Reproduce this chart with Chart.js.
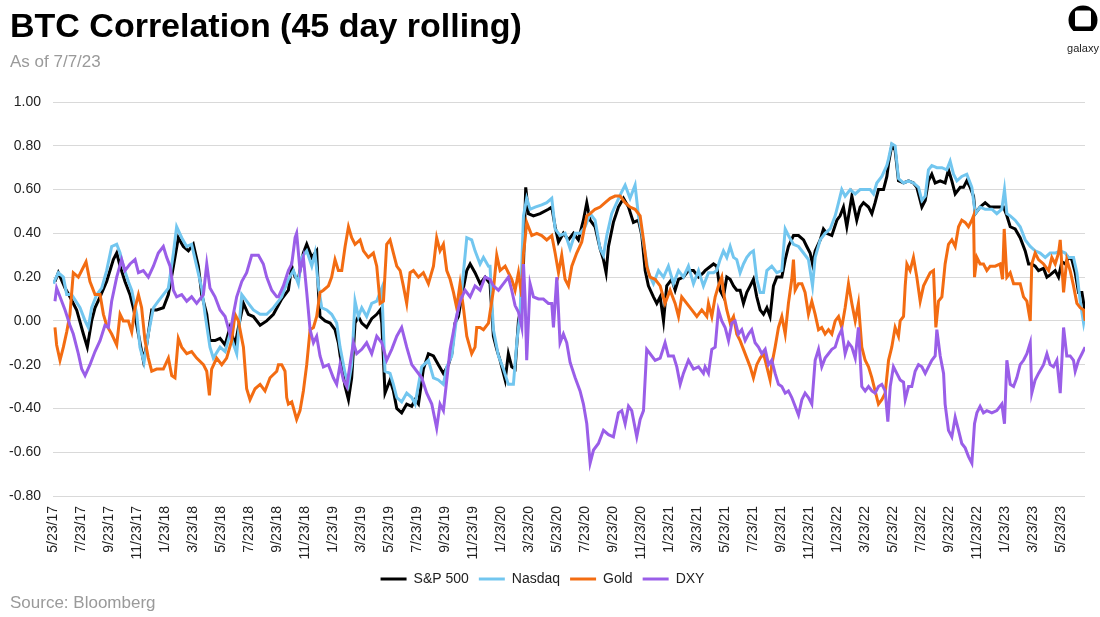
<!DOCTYPE html>
<html>
<head>
<meta charset="utf-8">
<script src="https://cdn.jsdelivr.net/npm/chart.js@4.4.0/dist/chart.umd.min.js"></script>
<style>
  html, body { margin: 0; padding: 0; background: #fff; }
  #wrap { position: relative; width: 1100px; height: 617px; overflow: hidden; font-family: "Liberation Sans", Arial, sans-serif; }
  #c { position: absolute; left: 0; top: 0; }
  .txt { position: absolute; white-space: nowrap; pointer-events: none; }
  #title { left: 10px; top: 8px; font-size: 34px; line-height: 34px; font-weight: 700; color: #000; letter-spacing: 0px; }
  #sub { left: 10px; top: 53px; font-size: 17px; line-height: 17px; color: #9a9a9a; }
  #src { left: 10px; top: 594px; font-size: 17px; line-height: 17px; color: #9a9a9a; }
  #logo { position: absolute; left: 1064px; top: 5px; width: 38px; text-align: center; }
  #logo div { font-size: 11px; line-height: 11px; color: #222; margin-top: 4px; }
</style>
</head>
<body>
<div id="wrap">
  <canvas id="c" width="1100" height="617"></canvas>
  <div id="title" class="txt">BTC Correlation (45 day rolling)</div>
  <div id="sub" class="txt">As of 7/7/23</div>
  <div id="logo">
    <svg width="30" height="30" viewBox="0 0 30 30">
      <defs><clipPath id="cl"><rect x="0" y="0" width="30" height="26"/></clipPath></defs>
      <circle cx="15" cy="15" r="14.5" fill="#000" clip-path="url(#cl)"/>
      <rect x="7" y="5.5" width="16" height="16" rx="1.5" fill="#fff"/>
    </svg>
    <div>galaxy</div>
  </div>
  <div id="src" class="txt">Source: Bloomberg</div>
</div>
<script>
// x = months since 5/23/17, y = 45-day rolling correlation with BTC
const tickLabels = ['5/23/17','7/23/17','9/23/17','11/23/17','1/23/18','3/23/18','5/23/18','7/23/18','9/23/18','11/23/18',
  '1/23/19','3/23/19','5/23/19','7/23/19','9/23/19','11/23/19','1/23/20','3/23/20','5/23/20','7/23/20','9/23/20','11/23/20',
  '1/23/21','3/23/21','5/23/21','7/23/21','9/23/21','11/23/21','1/23/22','3/23/22','5/23/22','7/23/22','9/23/22','11/23/22',
  '1/23/23','3/23/23','5/23/23'];

const seriesNames = ['S&P 500', 'Nasdaq', 'Gold', 'DXY'];

const sp500 = [[0.14,0.18],[0.38,0.22],[0.86,0.15],[1.21,0.11],[1.69,0.05],[2.17,-0.06],[2.45,-0.12],[2.76,0.0],[3.0,0.06],[3.36,0.11],[3.83,0.18],[4.31,0.28],[4.55,0.31],[4.79,0.25],[5.14,0.18],[5.5,0.12],[5.74,0.06],[5.98,-0.02],[6.45,-0.18],[6.69,-0.11],[7.05,0.05],[7.4,0.05],[7.88,0.06],[8.24,0.12],[8.6,0.25],[8.95,0.38],[9.31,0.34],[9.67,0.32],[10.02,0.35],[10.38,0.25],[10.62,0.12],[10.98,0.03],[11.21,-0.09],[11.57,-0.09],[11.93,-0.08],[12.29,-0.11],[12.64,-0.03],[13.0,-0.11],[13.24,-0.03],[13.6,0.08],[13.95,0.03],[14.31,0.02],[14.79,-0.02],[15.26,0.0],[15.74,0.03],
  [16.33,0.1],[16.81,0.14],[17.05,0.25],[17.29,0.2],[17.52,0.19],[17.88,0.31],[18.12,0.35],[18.48,0.29],[18.83,0.32],[18.95,0.14],[19.07,0.02],[19.43,0.0],[19.79,-0.01],[20.14,-0.04],[20.38,-0.1],[20.62,-0.21],[20.86,-0.3],[21.1,-0.36],[21.33,-0.26],[21.57,-0.01],[21.81,0.02],[22.05,-0.01],[22.4,-0.03],[22.76,0.01],[23.12,0.03],[23.36,0.05],[23.48,-0.01],[23.71,-0.33],[24.07,-0.27],[24.31,-0.32],[24.55,-0.4],[24.9,-0.42],[25.26,-0.38],[25.62,-0.39],[25.86,-0.36],[26.1,-0.38],[26.45,-0.22],[26.81,-0.15],[27.17,-0.16],[27.52,-0.2],[27.88,-0.24],[28.24,-0.2],[28.48,-0.15],[28.71,-0.01],[28.95,0.02],[29.19,0.11],[29.55,0.23],[29.79,0.26],[30.14,0.22],[30.5,0.17],[30.86,0.2],[31.21,0.17],
  [31.45,-0.07],[31.69,-0.13],[31.93,-0.18],[32.29,-0.27],[32.52,-0.15],[32.76,-0.21],[33.0,-0.22],[33.24,0.0],[33.48,0.08],[33.6,0.26],[33.76,0.61],[33.95,0.49],[34.31,0.48],[34.79,0.49],[35.38,0.51],[35.62,0.52],[35.86,0.43],[36.1,0.36],[36.45,0.4],[36.81,0.37],[37.17,0.4],[37.52,0.37],[37.88,0.46],[38.12,0.54],[38.36,0.46],[38.71,0.43],[39.07,0.33],[39.31,0.28],[39.5,0.22],[39.67,0.34],[40.02,0.45],[40.38,0.52],[40.74,0.56],[41.1,0.52],[41.45,0.45],[41.81,0.46],[42.05,0.39],[42.29,0.23],[42.52,0.16],[42.88,0.11],[43.12,0.08],[43.36,0.11],[43.6,0.0],[43.83,0.16],[44.19,0.19],[44.43,0.14],[44.67,0.19],[45.02,0.2],[45.38,0.23],[45.74,0.23],[46.1,0.2],[46.45,0.22],
  [46.57,0.23],[47.17,0.26],[47.4,0.25],[47.64,0.14],[47.88,0.11],[48.12,0.2],[48.36,0.19],[48.6,0.16],[48.83,0.14],[49.07,0.14],[49.31,0.08],[49.55,0.13],[49.79,0.16],[50.02,0.19],[50.26,0.11],[50.5,0.05],[50.74,0.03],[50.98,0.06],[51.21,0.02],[51.45,0.16],[51.69,0.2],[52.05,0.2],[52.29,0.28],[52.52,0.34],[52.88,0.39],[53.24,0.39],[53.6,0.37],[53.83,0.34],[54.07,0.31],[54.24,0.26],[54.43,0.32],[54.79,0.37],[55.02,0.42],[55.26,0.4],[55.62,0.39],[55.98,0.46],[56.21,0.48],[56.45,0.52],[56.69,0.43],[57.05,0.57],[57.4,0.46],[57.64,0.52],[57.88,0.54],[58.24,0.52],[58.48,0.49],[58.71,0.54],[58.95,0.6],[59.31,0.6],[59.55,0.66],[59.67,0.72],[59.9,0.8],[60.14,0.78],[60.38,0.64],
  [60.74,0.63],[61.1,0.64],[61.45,0.63],[61.69,0.61],[61.93,0.55],[62.05,0.52],[62.29,0.55],[62.52,0.64],[62.76,0.67],[63.0,0.63],[63.36,0.64],[63.71,0.63],[63.95,0.69],[64.19,0.64],[64.43,0.58],[64.79,0.61],[65.02,0.61],[65.26,0.64],[65.5,0.61],[65.74,0.57],[65.86,0.49],[66.21,0.52],[66.57,0.54],[66.93,0.52],[67.29,0.52],[67.64,0.52],[67.88,0.52],[68.12,0.48],[68.36,0.43],[68.71,0.42],[69.07,0.38],[69.43,0.32],[69.67,0.26],[69.9,0.26],[70.14,0.25],[70.38,0.23],[70.74,0.24],[70.98,0.2],[71.21,0.21],[71.57,0.23],[71.81,0.2],[72.05,0.27],[72.29,0.26],[72.52,0.29],[72.76,0.28],[73.0,0.22],[73.24,0.13],[73.48,0.13],[73.71,0.04]];

const nasdaq = [[0.02,0.17],[0.38,0.22],[0.74,0.2],[0.98,0.12],[1.33,0.12],[1.93,0.06],[2.29,0.0],[2.52,-0.03],[2.76,0.06],[3.12,0.12],[3.48,0.15],[3.83,0.23],[4.19,0.34],[4.55,0.35],[4.79,0.31],[5.02,0.25],[5.38,0.18],[5.62,0.14],[5.98,0.03],[6.21,-0.12],[6.5,-0.19],[6.81,-0.06],[7.17,0.06],[7.52,0.09],[7.88,0.12],[8.24,0.15],[8.6,0.31],[8.83,0.43],[9.19,0.38],[9.55,0.34],[9.9,0.35],[10.26,0.25],[10.62,0.15],[10.86,0.03],[11.21,-0.12],[11.45,-0.17],[11.93,-0.12],[12.29,-0.14],[12.64,-0.06],[13.12,-0.15],[13.48,0.12],[13.83,0.09],[14.31,0.05],[14.79,0.03],[15.26,0.03],[15.74,0.06],
  [16.1,0.09],[16.33,0.11],[16.81,0.19],[17.17,0.23],[17.52,0.17],[17.76,0.29],[18.12,0.32],[18.48,0.25],[18.71,0.31],[18.95,0.16],[19.19,0.06],[19.55,0.05],[19.9,0.03],[20.26,-0.01],[20.5,-0.12],[20.86,-0.24],[21.1,-0.29],[21.33,-0.2],[21.57,0.09],[21.81,0.02],[22.05,0.06],[22.4,0.02],[22.76,0.08],[23.12,0.09],[23.48,0.15],[23.71,-0.23],[24.07,-0.24],[24.31,-0.29],[24.55,-0.35],[24.9,-0.37],[25.26,-0.33],[25.62,-0.35],[25.86,-0.38],[26.33,-0.21],[26.81,-0.18],[27.17,-0.26],[27.52,-0.27],[27.88,-0.29],[28.12,-0.21],[28.48,-0.16],[28.83,0.02],[29.19,0.14],[29.55,0.38],[29.9,0.37],[30.14,0.32],[30.5,0.26],[30.74,0.29],[31.1,0.25],
  [31.21,0.25],[31.45,-0.04],[31.81,-0.16],[32.17,-0.22],[32.52,-0.29],[32.88,-0.29],[33.12,-0.1],[33.36,0.04],[33.6,0.48],[33.83,0.56],[34.07,0.51],[34.43,0.52],[34.9,0.53],[35.26,0.54],[35.62,0.56],[35.86,0.42],[36.21,0.39],[36.57,0.4],[36.93,0.33],[37.29,0.4],[37.64,0.4],[38.0,0.43],[38.36,0.49],[38.71,0.46],[39.07,0.33],[39.31,0.3],[39.55,0.39],[39.9,0.49],[40.26,0.54],[40.62,0.59],[40.86,0.62],[41.21,0.56],[41.57,0.62],[41.81,0.48],[42.05,0.4],[42.29,0.31],[42.52,0.22],[42.88,0.17],[43.24,0.23],[43.6,0.2],[43.95,0.25],[44.31,0.17],[44.67,0.23],[45.02,0.2],[45.38,0.25],[45.74,0.17],[46.1,0.23],[46.45,0.16],
  [46.81,0.22],[47.17,0.22],[47.4,0.23],[47.64,0.28],[47.88,0.32],[48.12,0.29],[48.36,0.34],[48.6,0.29],[48.83,0.28],[49.07,0.22],[49.31,0.26],[49.55,0.29],[49.79,0.31],[50.02,0.32],[50.26,0.19],[50.5,0.13],[50.74,0.13],[50.98,0.23],[51.33,0.25],[51.69,0.22],[52.05,0.23],[52.29,0.42],[52.52,0.39],[52.88,0.35],[53.24,0.34],[53.6,0.31],[53.95,0.28],[54.24,0.16],[54.43,0.29],[54.79,0.37],[55.14,0.4],[55.5,0.42],[55.86,0.48],[56.1,0.54],[56.33,0.6],[56.57,0.57],[56.93,0.6],[57.29,0.58],[57.64,0.6],[58.0,0.6],[58.36,0.6],[58.6,0.58],[58.83,0.63],[59.19,0.66],[59.55,0.71],[59.67,0.74],[59.9,0.81],[60.14,0.8],[60.38,0.65],
  [60.74,0.63],[61.1,0.64],[61.45,0.63],[61.81,0.61],[62.05,0.55],[62.29,0.57],[62.52,0.69],[62.76,0.71],[63.12,0.7],[63.48,0.7],[63.83,0.69],[64.07,0.73],[64.31,0.67],[64.55,0.64],[64.9,0.66],[65.26,0.67],[65.62,0.61],[65.86,0.49],[66.21,0.52],[66.57,0.51],[67.05,0.51],[67.4,0.49],[67.76,0.51],[67.95,0.6],[68.12,0.49],[68.36,0.48],[68.71,0.46],[69.07,0.43],[69.43,0.37],[69.79,0.34],[70.14,0.32],[70.5,0.31],[70.86,0.29],[71.21,0.31],[71.57,0.31],[71.93,0.32],[72.29,0.31],[72.52,0.29],[72.88,0.29],[73.12,0.22],[73.36,0.09],[73.6,-0.01],[73.71,0.03]];

const gold = [[0.14,-0.03],[0.26,-0.11],[0.5,-0.18],[0.74,-0.12],[0.98,-0.05],[1.21,0.03],[1.45,0.22],[1.81,0.2],[2.05,0.23],[2.36,0.27],[2.64,0.18],[3.0,0.12],[3.36,0.12],[3.6,0.03],[3.83,-0.02],[4.19,-0.06],[4.55,-0.11],[4.79,0.03],[5.02,0.0],[5.38,0.0],[5.62,-0.05],[5.86,0.06],[6.1,0.12],[6.33,0.06],[6.57,-0.09],[6.81,-0.17],[7.05,-0.23],[7.4,-0.22],[7.88,-0.22],[8.24,-0.17],[8.48,-0.25],[8.71,-0.26],[8.95,-0.08],[9.19,-0.12],[9.55,-0.15],[9.9,-0.14],[10.26,-0.17],[10.74,-0.2],[10.98,-0.23],[11.17,-0.34],[11.33,-0.22],[11.69,-0.17],[12.05,-0.2],[12.4,-0.17],[12.76,-0.09],[13.0,0.03],[13.24,0.0],[13.6,-0.12],[13.83,-0.31],[14.07,-0.36],[14.43,-0.31],[14.79,-0.29],[15.14,-0.32],[15.5,-0.26],[15.98,-0.23],
  [16.1,-0.2],[16.33,-0.2],[16.57,-0.23],[16.69,-0.35],[16.81,-0.38],[17.05,-0.37],[17.4,-0.45],[17.64,-0.41],[17.88,-0.32],[18.12,-0.2],[18.36,-0.04],[18.6,-0.03],[18.83,0.02],[19.07,0.13],[19.31,0.14],[19.67,0.16],[19.9,0.2],[20.14,0.28],[20.38,0.23],[20.62,0.23],[20.86,0.34],[21.1,0.43],[21.33,0.38],[21.57,0.35],[21.93,0.37],[22.17,0.32],[22.52,0.29],[22.88,0.31],[23.12,0.25],[23.36,0.08],[23.6,0.09],[23.83,0.35],[24.07,0.37],[24.31,0.31],[24.55,0.25],[24.79,0.23],[25.02,0.16],[25.26,0.08],[25.5,0.22],[25.74,0.23],[26.1,0.2],[26.45,0.22],[26.81,0.17],[27.17,0.25],[27.4,0.38],[27.64,0.32],[27.88,0.35],[28.12,0.23],[28.36,0.19],[28.6,0.13],[28.83,0.06],[29.07,0.17],[29.31,0.06],[29.55,-0.07],[29.9,-0.15],[30.14,-0.12],[30.26,-0.03],[30.5,-0.03],[30.74,-0.04],[31.1,-0.01],
  [31.45,0.14],[31.69,0.3],[31.93,0.23],[32.29,0.25],[32.52,0.22],[32.76,0.19],[33.0,0.14],[33.24,0.22],[33.48,0.11],[33.6,0.31],[33.71,0.37],[33.83,0.45],[34.19,0.39],[34.55,0.4],[34.9,0.39],[35.26,0.37],[35.62,0.39],[35.86,0.31],[36.1,0.22],[36.33,0.3],[36.57,0.19],[36.81,0.16],[37.05,0.25],[37.4,0.31],[37.76,0.36],[38.12,0.48],[38.36,0.49],[38.71,0.51],[39.07,0.52],[39.43,0.54],[39.79,0.56],[40.14,0.57],[40.5,0.57],[40.86,0.54],[41.21,0.52],[41.57,0.51],[41.93,0.48],[42.17,0.37],[42.4,0.25],[42.64,0.2],[43.0,0.19],[43.36,0.16],[43.71,0.08],[44.07,0.14],[44.43,0.08],[44.67,0.02],[44.9,0.11],[45.26,0.08],[45.62,0.05],[45.98,0.02],[46.33,0.05],[46.69,0.02],
  [46.81,0.08],[47.05,0.02],[47.29,0.11],[47.52,0.16],[47.76,0.2],[47.88,0.13],[48.12,0.05],[48.36,-0.01],[48.6,0.02],[48.83,-0.06],[49.07,-0.09],[49.31,-0.13],[49.55,-0.17],[49.79,-0.21],[50.02,-0.26],[50.26,-0.2],[50.5,-0.17],[50.74,-0.15],[50.98,-0.21],[51.21,-0.27],[51.33,-0.2],[51.57,-0.12],[51.81,-0.03],[52.05,0.02],[52.29,-0.06],[52.52,0.08],[52.76,0.19],[52.88,0.28],[53.0,0.14],[53.24,0.17],[53.48,0.17],[53.71,0.13],[53.95,0.03],[54.19,0.09],[54.43,0.03],[54.67,-0.04],[54.9,-0.03],[55.14,-0.06],[55.38,-0.04],[55.62,-0.06],[55.86,0.0],[56.1,0.02],[56.33,-0.03],[56.57,0.06],[56.81,0.17],[57.05,0.08],[57.29,0.0],[57.52,0.08],[57.76,-0.12],[58.0,-0.18],[58.24,-0.21],[58.48,-0.26],[58.71,-0.32],[58.95,-0.38],[59.19,-0.36],[59.43,-0.33],[59.67,-0.18],[59.9,-0.12],
  [60.14,-0.03],[60.38,-0.07],[60.5,0.0],[60.74,0.02],[60.86,0.16],[60.98,0.26],[61.21,0.23],[61.45,0.29],[61.69,0.2],[61.93,0.09],[62.17,0.16],[62.4,0.19],[62.64,0.22],[62.88,0.23],[63.05,-0.03],[63.24,0.09],[63.48,0.11],[63.71,0.26],[63.95,0.35],[64.19,0.37],[64.43,0.34],[64.67,0.43],[64.9,0.46],[65.14,0.45],[65.38,0.43],[65.62,0.46],[65.74,0.48],[65.81,0.2],[65.98,0.29],[66.21,0.26],[66.45,0.26],[66.69,0.23],[66.93,0.25],[67.29,0.25],[67.64,0.26],[67.81,0.19],[67.93,0.42],[68.12,0.2],[68.36,0.22],[68.6,0.17],[68.83,0.17],[69.07,0.17],[69.31,0.11],[69.55,0.09],[69.79,0.0],[69.9,0.26],[70.14,0.31],[70.38,0.28],[70.74,0.26],[71.1,0.23],[71.33,0.29],[71.57,0.26],[71.81,0.31],[71.93,0.37],[72.17,0.13],[72.4,0.28],[72.64,0.23],[72.88,0.16],[73.12,0.08],[73.36,0.06],[73.6,0.05],[73.71,0.0]];

const dxy = [[0.14,0.09],[0.26,0.15],[0.5,0.11],[0.86,0.05],[1.21,-0.02],[1.45,-0.06],[1.81,-0.15],[2.05,-0.22],[2.29,-0.25],[2.64,-0.2],[3.0,-0.14],[3.36,-0.09],[3.71,-0.02],[3.95,-0.03],[4.19,0.09],[4.55,0.2],[4.9,0.28],[5.14,0.23],[5.5,0.26],[5.86,0.28],[6.1,0.22],[6.45,0.23],[6.81,0.2],[7.17,0.25],[7.52,0.31],[7.88,0.34],[8.12,0.29],[8.36,0.25],[8.6,0.14],[8.83,0.11],[9.19,0.12],[9.55,0.09],[9.9,0.11],[10.26,0.08],[10.74,0.12],[10.98,0.26],[11.21,0.15],[11.57,0.11],[11.93,0.05],[12.29,0.02],[12.64,-0.06],[12.88,0.03],[13.12,0.11],[13.48,0.18],[13.83,0.22],[14.19,0.3],[14.67,0.3],[15.02,0.26],[15.26,0.2],[15.62,0.14],[15.98,0.11],
  [16.1,0.11],[16.45,0.16],[16.81,0.23],[17.05,0.26],[17.29,0.38],[17.4,0.4],[17.64,0.23],[17.88,0.29],[18.12,0.13],[18.36,-0.04],[18.6,-0.1],[18.83,-0.07],[19.07,-0.16],[19.31,-0.21],[19.67,-0.2],[20.02,-0.26],[20.26,-0.29],[20.5,-0.2],[20.74,-0.27],[20.98,-0.3],[21.21,-0.2],[21.45,-0.1],[21.69,-0.15],[22.05,-0.13],[22.4,-0.1],[22.76,-0.15],[23.12,-0.07],[23.48,-0.1],[23.83,-0.18],[24.19,-0.13],[24.55,-0.07],[24.9,-0.03],[25.26,-0.12],[25.62,-0.2],[25.98,-0.23],[26.33,-0.26],[26.69,-0.33],[27.05,-0.38],[27.4,-0.49],[27.64,-0.38],[27.88,-0.41],[28.12,-0.27],[28.36,-0.13],[28.71,-0.01],[29.07,0.09],[29.43,0.14],[29.79,0.11],[30.14,0.16],[30.5,0.14],[30.86,0.2],[31.21,0.19],
  [31.45,0.16],[31.81,0.14],[32.17,0.17],[32.52,0.2],[32.76,0.14],[33.0,0.07],[33.24,0.04],[33.48,-0.03],[33.6,0.26],[33.71,0.11],[33.83,-0.18],[34.07,0.17],[34.31,0.11],[34.67,0.1],[35.02,0.1],[35.38,0.08],[35.62,0.08],[35.74,-0.03],[35.98,0.2],[36.21,-0.1],[36.45,-0.06],[36.69,-0.1],[36.93,-0.19],[37.29,-0.26],[37.64,-0.32],[37.88,-0.38],[38.12,-0.47],[38.36,-0.65],[38.6,-0.59],[38.95,-0.56],[39.31,-0.5],[39.67,-0.52],[40.02,-0.53],[40.38,-0.42],[40.62,-0.41],[40.86,-0.47],[41.1,-0.39],[41.33,-0.41],[41.69,-0.53],[41.93,-0.45],[42.17,-0.41],[42.4,-0.13],[42.64,-0.15],[43.0,-0.18],[43.36,-0.17],[43.71,-0.1],[43.95,-0.16],[44.31,-0.16],[44.55,-0.21],[44.79,-0.29],[45.02,-0.24],[45.38,-0.18],[45.74,-0.22],[46.1,-0.21],[46.45,-0.24],
  [46.57,-0.21],[46.81,-0.24],[47.05,-0.13],[47.29,-0.12],[47.52,0.05],[47.76,0.0],[48.0,-0.03],[48.24,-0.09],[48.48,-0.01],[48.71,0.0],[48.95,-0.06],[49.19,-0.04],[49.43,-0.09],[49.67,-0.06],[49.9,-0.04],[50.14,-0.1],[50.38,-0.12],[50.62,-0.15],[50.86,-0.13],[51.1,-0.2],[51.33,-0.18],[51.57,-0.24],[51.81,-0.29],[52.05,-0.3],[52.29,-0.33],[52.52,-0.32],[52.76,-0.35],[53.0,-0.39],[53.24,-0.43],[53.48,-0.36],[53.71,-0.33],[53.95,-0.35],[54.19,-0.38],[54.43,-0.18],[54.67,-0.13],[54.9,-0.21],[55.14,-0.17],[55.38,-0.15],[55.62,-0.13],[55.86,-0.12],[56.1,-0.07],[56.33,-0.04],[56.57,-0.15],[56.81,-0.1],[57.05,-0.12],[57.29,-0.17],[57.52,-0.03],[57.76,-0.3],[58.0,-0.32],[58.24,-0.3],[58.48,-0.32],[58.71,-0.33],[58.95,-0.3],[59.19,-0.29],[59.43,-0.32],[59.62,-0.46],[59.79,-0.3],[60.02,-0.21],[60.26,-0.24],[60.5,-0.27],
  [60.74,-0.28],[60.86,-0.36],[61.1,-0.3],[61.33,-0.3],[61.57,-0.23],[61.81,-0.2],[62.05,-0.21],[62.29,-0.24],[62.52,-0.21],[62.76,-0.18],[63.0,-0.16],[63.12,-0.04],[63.36,-0.16],[63.6,-0.24],[63.71,-0.38],[63.95,-0.5],[64.19,-0.53],[64.43,-0.44],[64.67,-0.5],[64.9,-0.56],[65.14,-0.58],[65.38,-0.62],[65.62,-0.65],[65.81,-0.47],[65.98,-0.42],[66.21,-0.39],[66.45,-0.42],[66.69,-0.41],[67.05,-0.42],[67.4,-0.41],[67.76,-0.38],[67.95,-0.47],[68.12,-0.18],[68.36,-0.29],[68.6,-0.3],[68.83,-0.26],[69.07,-0.2],[69.31,-0.18],[69.55,-0.15],[69.79,-0.1],[69.9,-0.33],[70.14,-0.27],[70.38,-0.24],[70.74,-0.2],[70.98,-0.15],[71.21,-0.2],[71.45,-0.21],[71.69,-0.18],[71.93,-0.33],[72.17,-0.03],[72.4,-0.16],[72.64,-0.16],[72.88,-0.18],[73.0,-0.23],[73.24,-0.18],[73.48,-0.15],[73.71,-0.12]];

const seriesData = [sp500, nasdaq, gold, dxy];
const seriesColors = ['#000000', '#72c6ef', '#f36c12', '#9a5ee8'];
const FONT = '"Liberation Sans", Arial, sans-serif';

const datasets = seriesData.map((arr, i) => ({
  label: seriesNames[i],
  data: arr.map(p => ({ x: p[0], y: p[1] })),
  borderColor: seriesColors[i],
  backgroundColor: seriesColors[i],
  borderWidth: 3,
  pointRadius: 0,
  tension: 0,
  order: 4 - i
}));

new Chart(document.getElementById('c'), {
  type: 'line',
  data: { datasets },
  options: {
    responsive: false,
    animation: false,
    layout: { padding: { top: 102, right: 15, bottom: 21, left: 0 } },
    plugins: {
      tooltip: { enabled: false },
      legend: {
        position: 'bottom',
        labels: {
          boxWidth: 26, boxHeight: 3, padding: 10,
          color: '#222', font: { family: FONT, size: 14 },
          sort: (a, b) => a.datasetIndex - b.datasetIndex,
          generateLabels: (chart) => Chart.defaults.plugins.legend.labels.generateLabels(chart)
            .map(l => Object.assign(l, { lineWidth: 0, fillStyle: l.strokeStyle }))
        }
      }
    },
    scales: {
      x: {
        type: 'linear',
        min: 0,
        max: 73.7,
        afterBuildTicks: (axis) => { axis.ticks = tickLabels.map((_, i) => ({ value: i * 2 })); },
        afterFit: (s) => { s.height = 66; },
        ticks: {
          autoSkip: false, maxRotation: 90, minRotation: 90, padding: 10,
          color: '#222', font: { family: FONT, size: 14 },
          callback: (v) => tickLabels[Math.round(v / 2)]
        },
        grid: { display: false, drawTicks: false },
        border: { display: false }
      },
      y: {
        min: -0.8,
        max: 1.0,
        afterFit: (s) => { s.width = 53; },
        ticks: {
          stepSize: 0.2, padding: 12,
          color: '#222', font: { family: FONT, size: 14 },
          callback: (v) => (Math.abs(v) < 1e-9 ? 0 : v).toFixed(2)
        },
        grid: { color: '#d9d9d9', lineWidth: 1, drawTicks: false },
        border: { display: false }
      }
    }
  }
});
</script>
</body>
</html>
